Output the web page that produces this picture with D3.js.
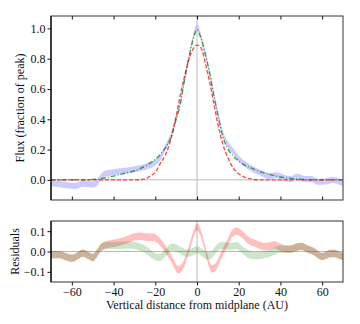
<!DOCTYPE html>
<html>
<head>
<meta charset="utf-8">
<script src="https://cdn.jsdelivr.net/npm/d3@7"></script>
<style>
  body { margin: 0; background: #fff; }
  svg text { font-family: "Liberation Serif", "Times New Roman", serif !important; }
</style>
</head>
<body>
<div class="chart"></div>
<script>
// profile sample positions (AU)
var profX = [-70,-65,-62,-58,-55,-52,-50,-48,-46,-44,-40,-35,-30,-25,-22,-20,-17.5,-15,-12.5,-10,-8,-6,-4,-2,0,2,4,6,8,10,12.5,15,17.5,20,22.5,25,30,35,38,42,45,48,52,55,58,62,65,68,70];
// observed flux (fraction of peak)
var obsFlux = [-0.02,-0.03,-0.035,-0.04,-0.025,-0.028,-0.03,-0.02,0.02,0.04,0.05,0.058,0.07,0.085,0.1,0.115,0.15,0.22,0.29,0.41,0.51,0.66,0.8,0.93,1.01,0.94,0.83,0.71,0.57,0.44,0.3,0.23,0.185,0.14,0.11,0.085,0.05,0.025,0.03,0.012,0.005,0.02,0.005,0.005,-0.012,-0.01,0.0,-0.01,-0.02];
var obsErr = 0.02;
// model A (green, dash-dot)
var modelA = [0,0,0,0,0,0,0.003,0.005,0.008,0.012,0.025,0.042,0.06,0.09,0.115,0.135,0.17,0.215,0.28,0.4,0.5,0.66,0.8,0.92,0.99,0.93,0.83,0.71,0.56,0.43,0.28,0.2,0.155,0.125,0.1,0.085,0.055,0.035,0.025,0.014,0.01,0.005,0.002,0,0,0,0,0,0];
// model B (red, dashed)
var modelB = [0,0,0,0,0,0,0,0,0,0,0,0,0,0.005,0.03,0.05,0.11,0.17,0.27,0.42,0.56,0.68,0.79,0.86,0.89,0.87,0.77,0.65,0.51,0.37,0.23,0.14,0.075,0.04,0.02,0.008,0,0,0,0,0,0,0,0,0,0,0,0,0];

// residual sample positions (AU)
var resX = [-70,-66,-63,-60,-57,-55,-52,-50,-48,-46,-43,-40,-36,-33,-30,-27,-24,-21,-18,-15,-12,-9,-7,-5,-3,-1,0,1,3,5,7,9,12,15,17,19,21,24,28,32,35,37,40,43,45,48,50,53,56,58,60,62,64,66,68,70];
var resB = [-0.015,-0.015,-0.025,-0.033,-0.02,-0.008,-0.02,-0.03,-0.01,0.02,0.035,0.04,0.05,0.06,0.072,0.075,0.07,0.07,0.05,0.01,-0.04,-0.09,-0.075,-0.025,0.04,0.105,0.12,0.11,0.05,-0.03,-0.085,-0.075,-0.01,0.05,0.09,0.1,0.09,0.06,0.04,0.025,0.028,0.033,0.02,0.012,0.012,0.022,0.025,0.012,0.0,-0.015,-0.025,-0.018,-0.01,-0.01,-0.018,-0.025];
var resA = [-0.015,-0.015,-0.025,-0.033,-0.02,-0.008,-0.02,-0.03,-0.01,0.02,0.03,0.03,0.03,0.033,0.03,0.02,0.005,-0.02,-0.03,-0.005,0.022,0.012,0.0,-0.008,-0.005,0.005,0.008,0.005,-0.01,-0.022,-0.015,0.01,0.03,0.025,0.025,0.03,0.015,-0.01,-0.02,-0.015,-0.008,0.002,0.012,0.012,0.012,0.022,0.025,0.012,0.0,-0.015,-0.025,-0.018,-0.01,-0.01,-0.018,-0.025];
var resErr = 0.018;

var xTicks = [-60,-40,-20,0,20,40,60];
var fluxTicks = [0, 0.2, 0.4, 0.6, 0.8, 1.0];
var resTicks = [-0.1, 0, 0.1];

var W = 360, H = 324;
var left = 51, right = 343;
var top1 = 16, bot1 = 200, top2 = 221, bot2 = 282;
var fs = 12;

var svg = d3.select('.chart').append('svg')
    .attr('width', W).attr('height', H);

var x = d3.scaleLinear().domain([-70, 70]).range([left, right]);
var y1 = d3.scaleLinear().domain([-0.133, 1.082]).range([bot1, top1]);
var y2 = d3.scaleLinear().domain([-0.15, 0.15]).range([bot2, top2]);

var fmt = function(d) { return d3.format('.1f')(d).replace('-', '\u2212'); };

// clip paths for both panels
var defs = svg.append('defs');
defs.append('clipPath').attr('id', 'c1').append('rect')
    .attr('x', left).attr('y', top1).attr('width', right - left).attr('height', bot1 - top1);
defs.append('clipPath').attr('id', 'c2').append('rect')
    .attr('x', left).attr('y', top2).attr('width', right - left).attr('height', bot2 - top2);

// ---- top panel ----
var p1 = svg.append('g').attr('clip-path', 'url(#c1)');
p1.append('line').attr('x1', left).attr('x2', right).attr('y1', y1(0)).attr('y2', y1(0))
    .attr('stroke', '#bbb').attr('stroke-width', 1);
p1.append('line').attr('x1', x(0)).attr('x2', x(0)).attr('y1', top1).attr('y2', bot1)
    .attr('stroke', '#bbb').attr('stroke-width', 1);

var band1 = d3.area()
    .x(function(d, i) { return x(profX[i]); })
    .y0(function(d) { return y1(d - obsErr); })
    .y1(function(d) { return y1(d + obsErr); })
    .curve(d3.curveMonotoneX);
p1.append('path').datum(obsFlux).attr('d', band1)
    .attr('fill', 'rgb(190,190,255)').attr('opacity', 0.8);

var line1 = d3.line()
    .x(function(d, i) { return x(profX[i]); })
    .y(function(d) { return y1(d); })
    .curve(d3.curveMonotoneX);
p1.append('path').datum(modelA).attr('d', line1)
    .attr('fill', 'none').attr('stroke', 'green').attr('stroke-opacity', 0.7)
    .attr('stroke-width', 1.4).attr('stroke-dasharray', '5,2,1,2');
p1.append('path').datum(modelB).attr('d', line1)
    .attr('fill', 'none').attr('stroke', 'red').attr('stroke-opacity', 0.7)
    .attr('stroke-width', 1.4).attr('stroke-dasharray', '4,2');

// ---- bottom panel ----
var p2 = svg.append('g').attr('clip-path', 'url(#c2)');
p2.append('line').attr('x1', left).attr('x2', right).attr('y1', y2(0)).attr('y2', y2(0))
    .attr('stroke', '#bbb').attr('stroke-width', 1);
p2.append('line').attr('x1', x(0)).attr('x2', x(0)).attr('y1', top2).attr('y2', bot2)
    .attr('stroke', '#bbb').attr('stroke-width', 1);

var band2 = d3.area()
    .x(function(d, i) { return x(resX[i]); })
    .y0(function(d) { return y2(d - resErr); })
    .y1(function(d) { return y2(d + resErr); })
    .curve(d3.curveMonotoneX);
p2.append('path').datum(resB).attr('d', band2).attr('fill', 'red').attr('fill-opacity', 0.25);
p2.append('path').datum(resA).attr('d', band2).attr('fill', 'green').attr('fill-opacity', 0.2);

// ---- axes ----
// top panel: left ticks out, top & bottom ticks in
var yAx1 = d3.axisLeft(y1).tickValues(fluxTicks).tickFormat(fmt).tickSize(3.5).tickPadding(2);
svg.append('g').attr('transform', 'translate(' + left + ',0)').call(yAx1);
svg.append('g').attr('transform', 'translate(0,' + top1 + ')')
    .call(d3.axisTop(x).tickValues(xTicks).tickFormat('').tickSize(-3.5));
svg.append('g').attr('transform', 'translate(0,' + bot1 + ')')
    .call(d3.axisBottom(x).tickValues(xTicks).tickFormat('').tickSize(-3.5));

// bottom panel: left & bottom ticks out
svg.append('g').attr('transform', 'translate(' + left + ',0)')
    .call(d3.axisLeft(y2).tickValues(resTicks).tickFormat(fmt).tickSize(3.5).tickPadding(2));
svg.append('g').attr('transform', 'translate(0,' + bot2 + ')')
    .call(d3.axisBottom(x).tickValues(xTicks).tickFormat(function(d) { return String(d).replace('-', '\u2212'); })
        .tickSize(3.5).tickPadding(1.5));

svg.selectAll('.domain').remove();
svg.selectAll('g').attr('font-family', null);
svg.selectAll('.tick line').attr('stroke', '#111');
svg.selectAll('.tick text').attr('font-size', fs).attr('fill', '#111');

// frames
[[top1, bot1], [top2, bot2]].forEach(function(p) {
    svg.append('rect').attr('x', left).attr('y', p[0])
        .attr('width', right - left).attr('height', p[1] - p[0])
        .attr('fill', 'none').attr('stroke', '#333').attr('stroke-width', 1);
    svg.append('line').attr('x1', left).attr('x2', left).attr('y1', p[0]).attr('y2', p[1])
        .attr('stroke', '#000').attr('stroke-width', 1.2);
});

// labels
svg.append('text').attr('transform', 'translate(24,' + ((top1 + bot1) / 2) + ') rotate(-90)')
    .attr('text-anchor', 'middle').attr('font-size', fs).attr('fill', '#111')
    .text('Flux (fraction of peak)');
svg.append('text').attr('transform', 'translate(19,' + ((top2 + bot2) / 2) + ') rotate(-90)')
    .attr('text-anchor', 'middle').attr('font-size', fs).attr('fill', '#111')
    .text('Residuals');
svg.append('text').attr('x', (left + right) / 2).attr('y', 309)
    .attr('text-anchor', 'middle').attr('font-size', fs).attr('fill', '#111')
    .text('Vertical distance from midplane (AU)');
</script>
</body>
</html>
